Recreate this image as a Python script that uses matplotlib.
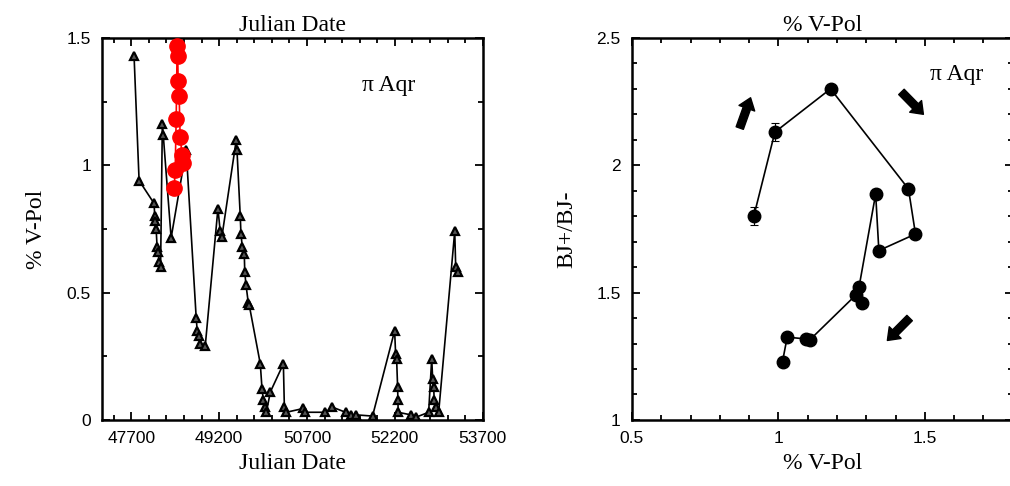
import numpy as np
import matplotlib.pyplot as plt
from matplotlib.ticker import MultipleLocator, FixedLocator, FormatStrFormatter

# left panel: polarization vs Julian date (black triangles)
jd = [47747, 47833, 48089, 48100, 48112, 48124, 48140, 48158, 48175, 48200,
      48230, 48245, 48380, 48637, 48808, 48825, 48859, 48876, 48962,
      49179, 49218, 49247, 49492, 49504, 49560, 49572, 49595, 49629, 49637,
      49658, 49697, 49714, 49902, 49932, 49954, 49988, 50005, 50074,
      50296, 50313, 50347, 50638, 50672, 51014, 51134, 51357, 51442, 51528,
      51818, 52195, 52212, 52229, 52246, 52251, 52256, 52468, 52554,
      52776, 52828, 52845, 52862, 52870, 52896, 52947, 53221, 53238, 53272]
vpol = [1.43, 0.94, 0.85, 0.80, 0.78, 0.75, 0.68, 0.66, 0.62, 0.60,
        1.16, 1.12, 0.715, 1.06, 0.40, 0.35, 0.33, 0.30, 0.29,
        0.83, 0.74, 0.72, 1.10, 1.06, 0.80, 0.73, 0.68, 0.65, 0.58,
        0.53, 0.46, 0.45, 0.22, 0.12, 0.08, 0.05, 0.03, 0.11,
        0.22, 0.05, 0.03, 0.045, 0.03, 0.03, 0.05, 0.03, 0.02, 0.02,
        0.015, 0.35, 0.26, 0.24, 0.13, 0.08, 0.03, 0.02, 0.01,
        0.03, 0.24, 0.16, 0.13, 0.08, 0.05, 0.03, 0.74, 0.60, 0.58]

# red circles (dates with BJ measurements)
jd_red = [48432, 48449, 48466, 48483, 48492, 48500, 48517, 48534, 48568, 48585]
vpol_red = [0.91, 0.98, 1.18, 1.47, 1.43, 1.33, 1.27, 1.11, 1.04, 1.01]

# right panel: BJ+/BJ- vs %V-Pol
pol = [0.916, 0.988, 1.178, 1.444, 1.468, 1.343, 1.332, 1.275, 1.285, 1.264,
       1.107, 1.093, 1.030, 1.014]
bj = [1.80, 2.13, 2.30, 1.907, 1.73, 1.665, 1.887, 1.52, 1.46, 1.49,
      1.314, 1.318, 1.325, 1.229]
bj_err = [0.035, 0.035, 0, 0, 0, 0, 0.02, 0, 0, 0, 0, 0, 0, 0]

# arrows (tail, head) in data coords of right panel
arrows = [((0.868, 2.146), (0.905, 2.265)),
          ((1.42, 2.288), (1.495, 2.200)),
          ((1.448, 1.40), (1.372, 1.312))]

serif = 'Liberation Serif'
sans = 'Liberation Sans'

fig = plt.figure(figsize=(10.1, 4.86), dpi=100)
ax1 = fig.add_axes([0.101, 0.136, 0.377, 0.786])
ax2 = fig.add_axes([0.6257, 0.136, 0.377, 0.786])

ax1.plot(jd, vpol, color='black', lw=1.2, marker='^', ms=6,
         mfc='#555555', mec='black', mew=1.6, zorder=2)
ax1.plot(jd_red, vpol_red, color='red', lw=1.2, marker='o', ms=11,
         mfc='red', mec='red', zorder=3)
ax1.set_xlim(47200, 53700)
ax1.set_ylim(0, 1.5)
ax1.xaxis.set_major_locator(FixedLocator([47700, 49200, 50700, 52200, 53700]))
ax1.xaxis.set_minor_locator(MultipleLocator(300))
ax1.yaxis.set_major_locator(FixedLocator([0, 0.5, 1.0, 1.5]))
ax1.yaxis.set_minor_locator(MultipleLocator(0.25))
ax1.yaxis.set_major_formatter(FormatStrFormatter('%g'))
ax1.set_xlabel('Julian Date', family=serif, fontsize=17, labelpad=5)
ax1.set_ylabel('% V-Pol', family=serif, fontsize=17, labelpad=14)
ax1.set_title('Julian Date', family=serif, fontsize=17, pad=5)
ax1.text(52090, 1.315, 'π Aqr', family=serif, fontsize=17, ha='center', va='center')

ax2.errorbar(pol, bj, yerr=bj_err, color='black', lw=1.2, marker='o', ms=9,
             capsize=3, elinewidth=0.8, capthick=0.8)
ax2.set_xlim(0.5, 1.8)
ax2.set_ylim(1, 2.5)
ax2.xaxis.set_major_locator(FixedLocator([0.5, 1.0, 1.5]))
ax2.xaxis.set_minor_locator(MultipleLocator(0.1))
ax2.yaxis.set_major_locator(FixedLocator([1.0, 1.5, 2.0, 2.5]))
ax2.yaxis.set_minor_locator(MultipleLocator(0.1))
ax2.xaxis.set_major_formatter(FormatStrFormatter('%g'))
ax2.yaxis.set_major_formatter(FormatStrFormatter('%g'))
ax2.set_xlabel('% V-Pol', family=serif, fontsize=17, labelpad=5)
ax2.set_ylabel('BJ+/BJ-', family=serif, fontsize=17, labelpad=14)
ax2.set_title('% V-Pol', family=serif, fontsize=17, pad=5)
ax2.text(1.608, 2.355, 'π Aqr', family=serif, fontsize=17, ha='center', va='center')
for tail, head in arrows:
    ax2.annotate('', xy=head, xytext=tail,
                 arrowprops=dict(arrowstyle='simple,head_width=1.2,head_length=0.8,tail_width=0.55',
                                 fc='black', ec='black', shrinkA=0, shrinkB=0))

for ax in (ax1, ax2):
    for s in ax.spines.values():
        s.set_linewidth(1.8)
    ax.tick_params(which='both', direction='in', top=True, right=True,
                   labelsize=12.5, width=1.3)
    ax.tick_params(which='major', length=6, pad=8)
    ax.tick_params(which='minor', length=3.5)
    for lab in ax.get_xticklabels() + ax.get_yticklabels():
        lab.set_family(sans)

fig.savefig('out.png', dpi=100)
